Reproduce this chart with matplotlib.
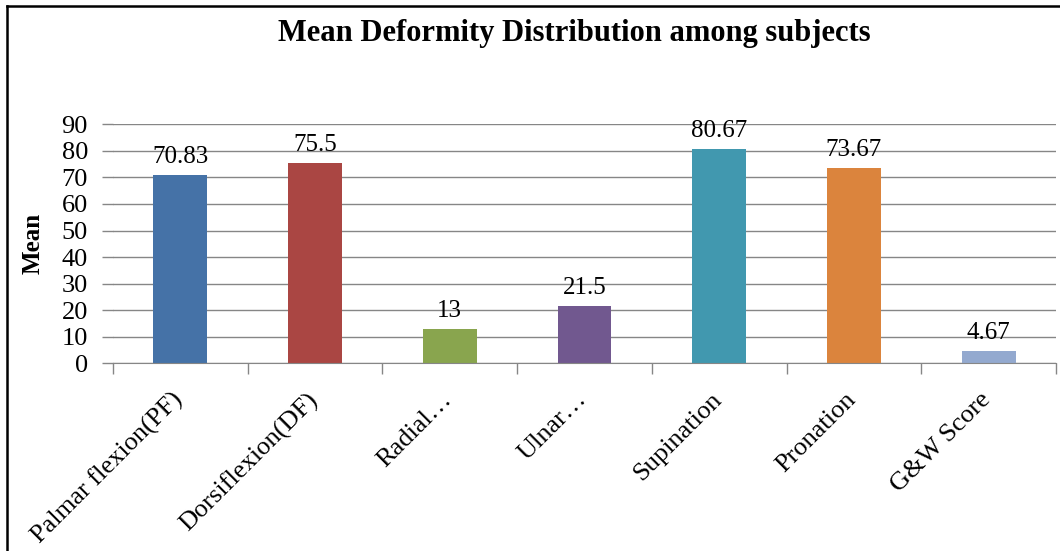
import matplotlib
matplotlib.use("Agg")
import matplotlib.pyplot as plt
from matplotlib.lines import Line2D

categories = ["Palmar flexion(PF)", "Dorsiflexion(DF)", "Radial…", "Ulnar…",
              "Supination", "Pronation", "G&W Score"]
values = [70.83, 75.5, 13, 21.5, 80.67, 73.67, 4.67]
value_labels = ["70.83", "75.5", "13", "21.5", "80.67", "73.67", "4.67"]
colors = ["#4572A7", "#AA4643", "#89A54E", "#71588F", "#4198AF", "#DB843D", "#93A9CF"]
yticks = [0, 10, 20, 30, 40, 50, 60, 70, 80, 90]

W, H = 1060, 551
fig = plt.figure(figsize=(W / 100, H / 100), dpi=100)
serif = "Liberation Serif"
fs = 18

ax = fig.add_axes([113 / W, 1 - 363.3 / H, (1056 - 113) / W, (363.3 - 124.3) / H])
x = list(range(len(categories)))
ax.bar(x, values, width=0.4, color=colors, zorder=3)
ax.set_xlim(-0.5, len(categories) - 0.5)
ax.set_ylim(0, 90)
ax.set_yticks(yticks)
ax.set_yticklabels([str(t) for t in yticks], fontfamily=serif, fontsize=19)

# category boundaries as tick marks, labels centred under bars
ax.set_xticks([i - 0.5 for i in range(len(categories) + 1)])
ax.set_xticklabels([])
ax.tick_params(axis="x", length=8, color="#868686", width=1)
ax.tick_params(axis="y", length=8, color="#868686", width=1, pad=10)
for i, lab in enumerate(categories):
    ax.annotate(lab, xy=(i, 0), xycoords=("data", "axes fraction"),
                xytext=(-6.5, -18), textcoords="offset points",
                rotation=45, ha="right", va="top", rotation_mode="anchor",
                fontfamily=serif, fontsize=19)

ax.yaxis.grid(True, color="#868686", linewidth=1, zorder=0)
for side in ["top", "right", "left"]:
    ax.spines[side].set_visible(False)
ax.spines["bottom"].set_color("#868686")
ax.spines["bottom"].set_zorder(4)

for i, (v, lab) in enumerate(zip(values, value_labels)):
    ax.annotate(lab, xy=(i, v), xytext=(0, 5), textcoords="offset points",
                ha="center", va="bottom", fontfamily=serif, fontsize=fs, zorder=5)

ax.set_ylabel("Mean", fontfamily=serif, fontsize=fs, fontweight="bold", labelpad=12)

fig.text(574 / W, 1 - 34 / H, "Mean Deformity Distribution among subjects",
         ha="center", va="center", fontfamily=serif, fontsize=22, fontweight="bold")

# chart frame along the top and left edges
fig.add_artist(Line2D([7 / W, 1.0], [1 - 6 / H, 1 - 6 / H], color="black", linewidth=1.8))
fig.add_artist(Line2D([7 / W, 7 / W], [0.0, 1 - 6 / H], color="black", linewidth=1.8))

fig.savefig("out.png", dpi=100)
